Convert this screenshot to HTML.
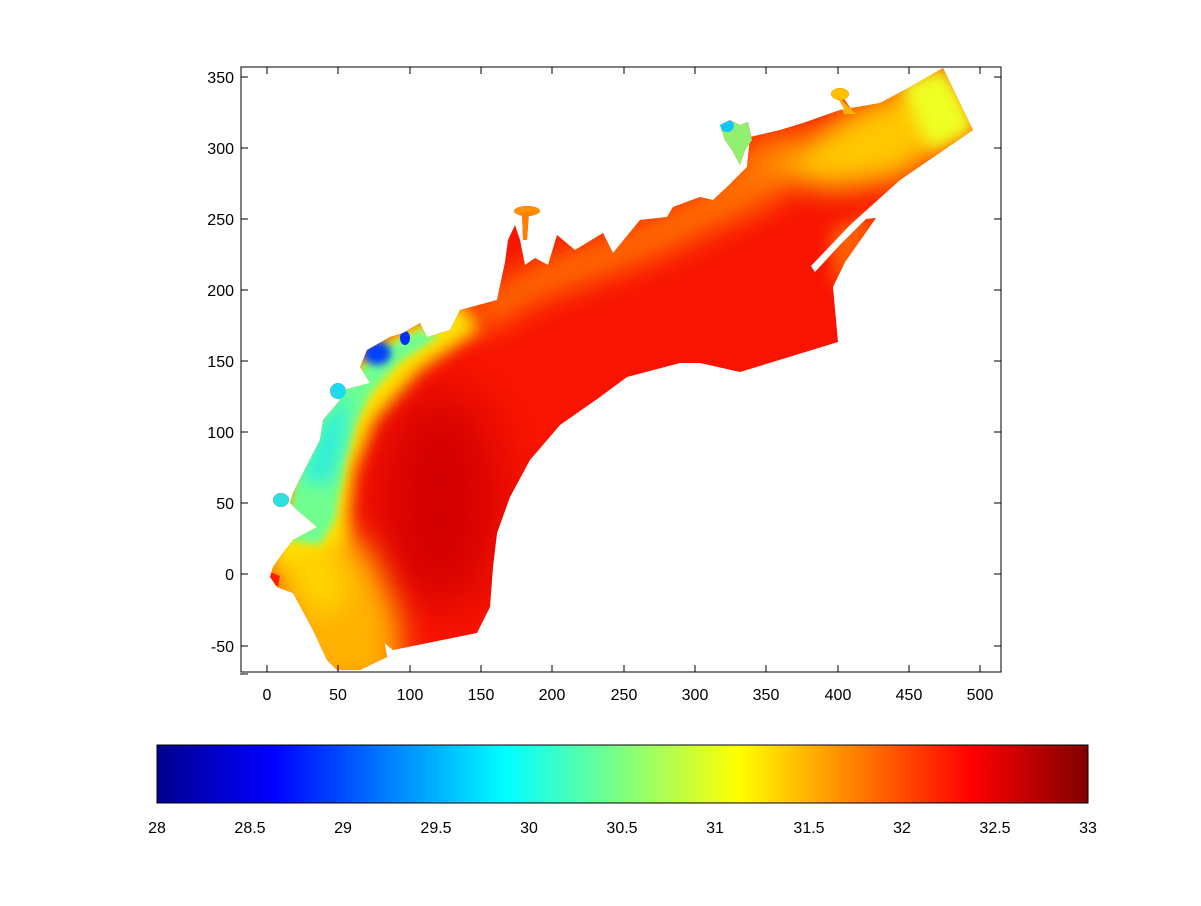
<!DOCTYPE html>
<html><head><meta charset="utf-8"><style>
body{margin:0;background:#fff;}
svg text{font-family:"Liberation Sans",sans-serif;font-size:16px;fill:#000;}
</style></head><body>
<svg width="1201" height="901" xmlns="http://www.w3.org/2000/svg">
<defs>
<clipPath id="c">
<path d="M393,650 L477,633 L490,607 L493,567 L497,533 L510,497 L530,460 L560,425 L600,397 L627,377 L680,363 L700,363 L740,372 L838,342 L833,287 L845,262 L876,218 L866,219 L840,245 L815,272 L811,266 L850,225 L900,180 L973,130 L943,68 L910,87 L880,103 L840,110 L803,123 L780,130 L750,137 L747,167 L727,187 L713,200 L700,197 L673,207 L667,217 L640,220 L613,253 L603,233 L575,250 L557,235 L548,265 L535,258 L525,265 L520,240 L515,225 L508,240 L505,262 L497,300 L460,310 L450,330 L427,337 L420,323 L403,333 L390,337 L367,350 L360,367 L370,383 L343,390 L333,393 L340,400 L323,420 L320,440 L303,473 L293,493 L290,503 L297,510 L317,527 L293,540 L280,557 L273,567 L270,577 L277,587 L293,593 L313,630 L327,660 L337,670 L360,670 L387,657 L383,633 L370,620 L363,623 L373,633 L393,650 Z"/>
<ellipse cx="527" cy="211" rx="13" ry="5"/>
<path d="M522,212 L529,212 L527,240 L523,240 Z"/>
<ellipse cx="840" cy="94" rx="9" ry="6"/>
<path d="M842,96 L852,110 L846,112 L838,98 Z"/>
<ellipse cx="281" cy="500" rx="8" ry="7"/>
<ellipse cx="338" cy="391" rx="8" ry="8"/>
<path d="M720,125 L730,120 L740,125 L748,122 L752,140 L745,150 L740,165 L732,150 L725,140 Z"/>
</clipPath>
<filter id="b25" x="-50%" y="-50%" width="200%" height="200%"><feGaussianBlur stdDeviation="25"/></filter>
<filter id="b15" x="-50%" y="-50%" width="200%" height="200%"><feGaussianBlur stdDeviation="15"/></filter>
<filter id="b8" x="-50%" y="-50%" width="200%" height="200%"><feGaussianBlur stdDeviation="8"/></filter>
<filter id="b4" x="-50%" y="-50%" width="200%" height="200%"><feGaussianBlur stdDeviation="4"/></filter>
<linearGradient id="jet" x1="0" x2="1" y1="0" y2="0">
<stop offset="0" stop-color="#00008f"/><stop offset="0.125" stop-color="#0000ff"/>
<stop offset="0.375" stop-color="#00ffff"/><stop offset="0.625" stop-color="#ffff00"/>
<stop offset="0.875" stop-color="#ff0000"/><stop offset="1" stop-color="#800000"/>
</linearGradient>
</defs>
<g clip-path="url(#c)">
<rect x="200" y="50" width="850" height="650" fill="#f81400"/>
<ellipse cx="440" cy="500" rx="60" ry="110" fill="#d40000" filter="url(#b25)"/>
<path d="M470,300 L540,260 L620,230 L700,190 L750,140 L800,120 L780,200 L650,260 L540,300 L480,335 Z" fill="#ff7000" filter="url(#b15)"/>
<path d="M830,230 L880,210 L860,260 L835,290 Z" fill="#ff6000" filter="url(#b8)"/>
<path d="M760,170 L850,110 L940,70 L975,130 L900,180 L830,190 Z" fill="#ffc800" filter="url(#b15)"/>
<path d="M900,85 L945,66 L978,130 L930,150 Z" fill="#eeff20" filter="url(#b8)"/>
<path d="M260,540 L340,520 L375,560 L400,620 L400,690 L300,690 Z" fill="#ffb000" filter="url(#b15)"/>
<path d="M280,560 L330,540 L350,600 L320,620 Z" fill="#ffd800" filter="url(#b15)"/>
<path d="M275,570 L295,470 L330,390 L380,340 L460,300 L480,330 L420,370 L375,420 L355,470 L345,545 Z" fill="#ffe000" filter="url(#b8)"/>
<path d="M285,540 L295,480 L320,420 L345,385 L380,350 L420,330 L440,336 L400,362 L372,392 L355,425 L345,462 L335,520 L320,545 Z" fill="#70ff90" filter="url(#b4)"/>
<path d="M300,480 L322,425 L350,390 L345,440 L330,485 Z" fill="#30f0d8" filter="url(#b8)"/>
<ellipse cx="377" cy="353" rx="14" ry="12" fill="#0040ff" filter="url(#b4)"/>
<ellipse cx="405" cy="338" rx="5" ry="7" fill="#0030ff"/>
<ellipse cx="338" cy="391" rx="8" ry="8" fill="#20d8f0"/>
<ellipse cx="281" cy="500" rx="8" ry="7" fill="#30e0e0"/>
<path d="M720,125 L730,120 L740,125 L748,122 L752,140 L745,150 L740,165 L732,150 L725,140 Z" fill="#90f070"/>
<ellipse cx="727" cy="126" rx="7" ry="6" fill="#10c8ff"/>
<ellipse cx="527" cy="211" rx="13" ry="5" fill="#ff9000"/>
<rect x="520" y="212" width="12" height="30" fill="#ff8000"/>
<ellipse cx="840" cy="94" rx="9" ry="6" fill="#ffc000"/>
<path d="M836,94 L856,114 L844,114 Z" fill="#ffb000"/>
<path d="M262,578 L270,572 L280,576 L278,586 L270,585 Z" fill="#ff2000"/>
</g>
<!-- axes -->
<rect x="241" y="67" width="760" height="605" fill="none" stroke="#000" stroke-width="1"/>
<g stroke="#000">
<line x1="267" y1="672" x2="267" y2="665"/><line x1="338" y1="672" x2="338" y2="665"/><line x1="410" y1="672" x2="410" y2="665"/><line x1="481" y1="672" x2="481" y2="665"/><line x1="552" y1="672" x2="552" y2="665"/><line x1="624" y1="672" x2="624" y2="665"/><line x1="695" y1="672" x2="695" y2="665"/><line x1="766" y1="672" x2="766" y2="665"/><line x1="838" y1="672" x2="838" y2="665"/><line x1="909" y1="672" x2="909" y2="665"/><line x1="980" y1="672" x2="980" y2="665"/>
<line x1="267" y1="67" x2="267" y2="74"/><line x1="338" y1="67" x2="338" y2="74"/><line x1="410" y1="67" x2="410" y2="74"/><line x1="481" y1="67" x2="481" y2="74"/><line x1="552" y1="67" x2="552" y2="74"/><line x1="624" y1="67" x2="624" y2="74"/><line x1="695" y1="67" x2="695" y2="74"/><line x1="766" y1="67" x2="766" y2="74"/><line x1="838" y1="67" x2="838" y2="74"/><line x1="909" y1="67" x2="909" y2="74"/><line x1="980" y1="67" x2="980" y2="74"/>
<line x1="241" y1="77" x2="248" y2="77"/><line x1="241" y1="148" x2="248" y2="148"/><line x1="241" y1="219" x2="248" y2="219"/><line x1="241" y1="290" x2="248" y2="290"/><line x1="241" y1="361" x2="248" y2="361"/><line x1="241" y1="432" x2="248" y2="432"/><line x1="241" y1="503" x2="248" y2="503"/><line x1="241" y1="574" x2="248" y2="574"/><line x1="241" y1="646" x2="248" y2="646"/>
<line x1="1001" y1="77" x2="994" y2="77"/><line x1="1001" y1="148" x2="994" y2="148"/><line x1="1001" y1="219" x2="994" y2="219"/><line x1="1001" y1="290" x2="994" y2="290"/><line x1="1001" y1="361" x2="994" y2="361"/><line x1="1001" y1="432" x2="994" y2="432"/><line x1="1001" y1="503" x2="994" y2="503"/><line x1="1001" y1="574" x2="994" y2="574"/><line x1="1001" y1="646" x2="994" y2="646"/>
<line x1="240" y1="674" x2="248" y2="674"/>
</g>
<g text-anchor="middle">
<text x="267" y="700">0</text><text x="338" y="700">50</text><text x="410" y="700">100</text><text x="481" y="700">150</text><text x="552" y="700">200</text><text x="624" y="700">250</text><text x="695" y="700">300</text><text x="766" y="700">350</text><text x="838" y="700">400</text><text x="909" y="700">450</text><text x="980" y="700">500</text>
</g>
<g text-anchor="end">
<text x="234" y="83">350</text><text x="234" y="154">300</text><text x="234" y="225">250</text><text x="234" y="296">200</text><text x="234" y="367">150</text><text x="234" y="438">100</text><text x="234" y="509">50</text><text x="234" y="580">0</text><text x="234" y="652">-50</text>
</g>
<!-- colorbar -->
<rect x="157" y="745" width="931" height="58" fill="url(#jet)" stroke="#000"/>
<g text-anchor="middle">
<text x="157" y="833">28</text><text x="250" y="833">28.5</text><text x="343" y="833">29</text><text x="436" y="833">29.5</text><text x="529" y="833">30</text><text x="622" y="833">30.5</text><text x="715" y="833">31</text><text x="809" y="833">31.5</text><text x="902" y="833">32</text><text x="995" y="833">32.5</text><text x="1088" y="833">33</text>
</g>
</svg>
</body></html>
